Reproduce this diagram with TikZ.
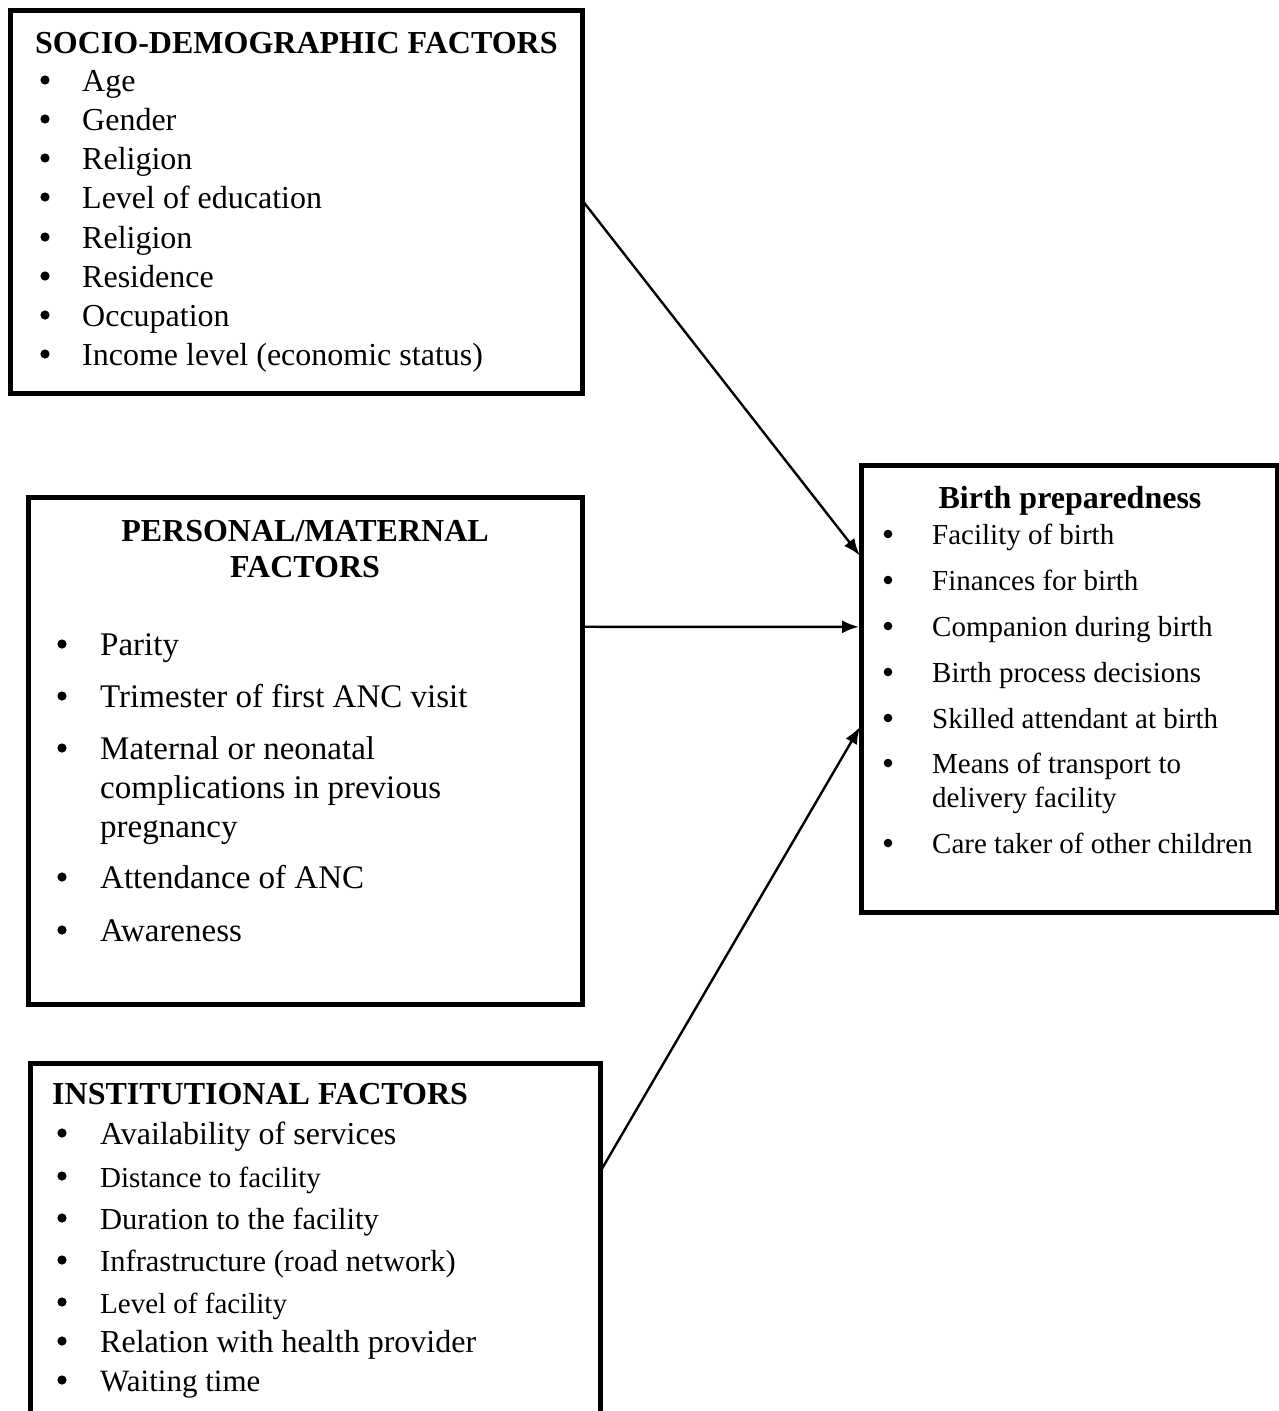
\documentclass[tikz,border=0pt]{standalone}
\usepackage{fontspec}
\setmainfont{Liberation Serif}
\usetikzlibrary{arrows.meta,calc}
\begin{document}
\begin{tikzpicture}[x=1pt,y=-1pt,
  box/.style={draw, line width=5pt, inner sep=0pt, outer sep=0pt, anchor=north west},
  txt/.style={anchor=base west, inner sep=0pt, font=\fontsize{32}{38}\selectfont},
  txtm/.style={anchor=base west, inner sep=0pt, font=\fontsize{33}{39}\selectfont},
  txts/.style={anchor=base west, inner sep=0pt, font=\fontsize{29}{34}\selectfont},
  hd/.style={anchor=base west, inner sep=0pt, font=\bfseries\fontsize{32}{38}\selectfont},
  hdc/.style={anchor=base, inner sep=0pt, font=\bfseries\fontsize{32}{38}\selectfont},
  arr/.style={-{Latex[length=17pt,width=13pt]}, line width=2.4pt, shorten >=2pt},
  bul/.style={fill=black}
]
\useasboundingbox (0,0) rectangle (1279,1411);
\clip (0,0) rectangle (1279,1411);
\fill[white] (0,0) rectangle (1279,1411);

% boxes
\node[box, minimum width=572pt, minimum height=383pt] (socio) at (10,10) {};
\node[box, minimum width=554pt, minimum height=507pt] (pers) at (28,497) {};
\node[box, minimum width=570pt, minimum height=380pt] (inst) at (30,1063) {};
\node[box, minimum width=416pt, minimum height=447pt] (birth) at (861,465) {};

% socio-demographic
\node[hd] (sh) at (35,53) {SOCIO-DEMOGRAPHIC FACTORS};
\foreach \t/\y [count=\i] in {Age/91, Gender/130, Religion/169, Level of education/208, Religion/248, Residence/287, Occupation/326, Income level (economic status)/365}{
  \fill[bul] (45,\y-11) circle[radius=4.6pt];
  \node[txt] (s\i) at (82,\y) {\t};
}

% personal / maternal
\node[hdc] (ph1) at (305,541) {PERSONAL/MATERNAL};
\node[hdc] (ph2) at (305,577) {FACTORS};
\foreach \y in {655,707,759,888,941}{
  \fill[bul] (62,\y-11) circle[radius=4.6pt];
}
\node[txtm] (p1) at (100,655) {Parity};
\node[txtm] (p2) at (100,707) {Trimester of first ANC visit};
\node[txtm] (p3a) at (100,759) {Maternal or neonatal};
\node[txtm] (p3b) at (100,798) {complications in previous};
\node[txtm] (p3c) at (100,837) {pregnancy};
\node[txtm] (p4) at (100,888) {Attendance of ANC};
\node[txtm] (p5) at (100,941) {Awareness};

% institutional
\node[hd] (ih) at (52,1104) {INSTITUTIONAL FACTORS};
\foreach \t/\y/\s [count=\i] in {Availability of services/1144/32, Distance to facility/1187/29, Duration to the facility/1229/30.5, Infrastructure (road network)/1271/30.5, Level of facility/1313/29, Relation with health provider/1352/32, Waiting time/1391/31}{
  \fill[bul] (62,\y-11) circle[radius=4.6pt];
  \node[anchor=base west, inner sep=0pt, font=\fontsize{\s}{\s}\selectfont] (i\i) at (100,\y) {\t};
}

% birth preparedness
\node[hdc] (bh) at (1070,508) {Birth preparedness};
\foreach \y in {544,590,636,682,728,773,853}{
  \fill[bul] (888,\y-10) circle[radius=4.3pt];
}
\node[txts] (b1) at (932,544) {Facility of birth};
\node[txts] (b2) at (932,590) {Finances for birth};
\node[txts] (b3) at (932,636) {Companion during birth};
\node[txts] (b4) at (932,682) {Birth process decisions};
\node[txts] (b5) at (932,728) {Skilled attendant at birth};
\node[txts] (b6a) at (932,773) {Means of transport to};
\node[txts] (b6b) at (932,807) {delivery facility};
\node[txts] (b7) at (932,853) {Care taker of other children};

% connectors
\draw[arr] ($(socio.north east)!0.496!(socio.south east)$) -- ($(birth.north west)!0.206!(birth.south west)$);
\draw[arr] ($(pers.north east)!0.256!(pers.south east)$) -- ($(birth.north west)!0.362!(birth.south west)$);
\draw[arr] ($(inst.north east)!0.287!(inst.south east)$) -- ($(birth.north west)!0.582!(birth.south west)$);
\end{tikzpicture}
\end{document}
